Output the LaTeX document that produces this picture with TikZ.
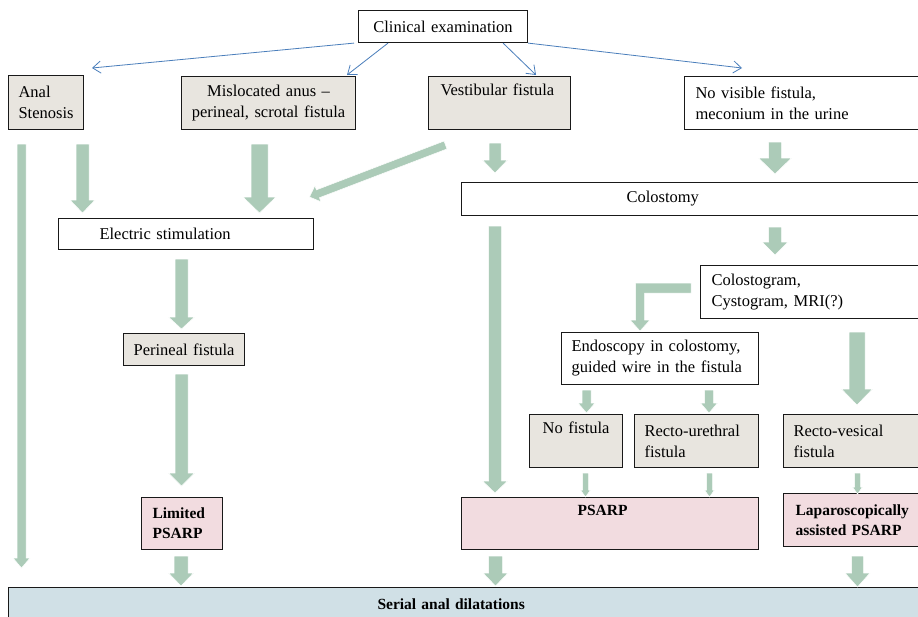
\documentclass[tikz,border=0pt]{standalone}
\usepackage{fontspec}
\setmainfont{Liberation Serif}
\usetikzlibrary{calc,arrows.meta}

\definecolor{arrowgreen}{HTML}{ACCBB8}
\definecolor{boxgray}{HTML}{E8E5DF}
\definecolor{boxpink}{HTML}{F2DCE0}
\definecolor{boxblue}{HTML}{D0E0E6}
\definecolor{linkblue}{HTML}{4A7EBB}

% wide block arrow: start, tip, half shaft width, half head width, head length
\newcommand\blockarrow[5]{%
  \coordinate (bahead) at ($(#2)!#5!(#1)$);
  \path[garrow] ($(#1)!#3!90:(#2)$) -- ($(bahead)!#3!90:(#2)$)
    -- ($(bahead)!#4!90:(#2)$) -- (#2) -- ($(bahead)!#4!-90:(#2)$)
    -- ($(bahead)!#3!-90:(#2)$) -- ($(#1)!#3!-90:(#2)$) -- cycle;
}

\tikzset{
  x=1pt, y=-1pt,
  cell/.style={draw=black!90, line width=1.1pt, anchor=north west,
    inner xsep=0pt, inner ysep=0pt,
    font=\fontsize{16.5}{21}\selectfont},
  boldcell/.style={cell, font=\fontsize{15.5}{20}\selectfont\bfseries},
  garrow/.style={fill=arrowgreen, draw=white, line width=0.5pt},
  bluearrow/.style={draw=linkblue, line width=0.8pt,
    -{Straight Barb[length=8pt,width=12pt]}},
}

\begin{document}
\begin{tikzpicture}
\clip (0,0) rectangle (918,616);
\fill[white] (0,0) rectangle (918,616);

% ---- boxes ----
\node[cell, fill=white, minimum width=169pt, minimum height=32pt,
  text width=169pt, align=center] (clin) at (358,10) {Clinical examination};

\node[cell, fill=boxgray, minimum width=75pt, minimum height=54pt,
  text width=55pt, align=left] (anal) at (8,75) {Anal\\Stenosis};
\node[cell, fill=boxgray, minimum width=174pt, minimum height=53pt,
  text width=174pt, align=center] (misl) at (181,76)
  {Mislocated anus --\\perineal, scrotal fistula};
\node[cell, fill=boxgray, minimum width=142pt, minimum height=53pt,
  text width=118pt, align=left] (vest) at (428,76) {Vestibular fistula\\\strut};
\node[cell, fill=white, minimum width=241pt, minimum height=53pt,
  text width=219pt, align=left] (novis) at (684,76)
  {No visible fistula,\\meconium in the urine};

\node[cell, fill=white, minimum width=464pt, minimum height=33pt,
  text width=134pt, align=left] (colost) at (461,182) {Colostomy};
\node[cell, fill=white, minimum width=255pt, minimum height=31pt,
  text width=173pt, align=left] (elec) at (58,218) {Electric stimulation};

\node[cell, fill=white, minimum width=225pt, minimum height=53pt,
  text width=203pt, align=left] (colgram) at (700,265)
  {Colostogram,\\Cystogram, MRI(?)};
\node[cell, fill=boxgray, minimum width=121pt, minimum height=32pt,
  text width=121pt, align=center] (perin) at (123,333) {Perineal fistula};
\node[cell, fill=white, minimum width=197pt, minimum height=52pt,
  text width=177pt, align=left] (endo) at (561,332)
  {Endoscopy in colostomy,\\guided wire in the fistula};

\node[cell, fill=boxgray, minimum width=93pt, minimum height=53pt,
  text width=93pt, align=center] (nofist) at (529,414) {No fistula\\\strut};
\node[cell, fill=boxgray, minimum width=124pt, minimum height=53pt,
  text width=104pt, align=left] (recur) at (634,414) {Recto-urethral\\fistula};
\node[cell, fill=boxgray, minimum width=142pt, minimum height=53pt,
  text width=122pt, align=left] (recves) at (783,414) {Recto-vesical\\fistula};

\node[boldcell, fill=boxpink, minimum width=81pt, minimum height=52pt,
  text width=59pt, align=left] (limited) at (141,497) {Limited\\PSARP};
\node[boldcell, fill=boxpink, minimum width=297pt, minimum height=52pt,
  text width=65pt, align=left] (psarp) at (461,497) {PSARP\\\strut};
\node[boldcell, fill=boxpink, minimum width=142pt, minimum height=53pt,
  text width=118pt, align=left] (lap) at (783,493)
  {Laparoscopically\\assisted PSARP};

\node[boldcell, fill=boxblue, minimum width=917pt, minimum height=34pt,
  text width=179pt, align=left] (serial) at (8,587) {Serial anal dilatations};

% ---- thin blue branches from the examination ----
\coordinate (bAnal) at (92,68);
\coordinate (bMisl) at (347,75);
\coordinate (bVest) at (536,75);
\coordinate (bNovis) at (742,68);
\draw[bluearrow] ([xshift=-4pt]clin.south west) -- (bAnal);
\draw[bluearrow] ([xshift=30pt]clin.south west) -- (bMisl);
\draw[bluearrow] ([xshift=-25pt]clin.south east) -- (bVest);
\draw[bluearrow] (clin.south east) -- (bNovis);

% ---- green block arrows ----
\coordinate (g1s) at (21.5,144);  \coordinate (g1e) at (21.5,568);
\coordinate (g2s) at (82.5,144);  \coordinate (g2e) at (82.5,213);
\coordinate (g3s) at (259.5,144); \coordinate (g3e) at (259.5,213);
\coordinate (g4s) at (445.5,145); \coordinate (g4e) at (309.5,197);
\coordinate (g5s) at (495,143);   \coordinate (g5e) at (495,173);
\coordinate (g6s) at (775,142);   \coordinate (g6e) at (775,174);
\coordinate (g7s) at (495,226);   \coordinate (g7e) at (495,493);
\coordinate (g8s) at (775,227);   \coordinate (g8e) at (775,255);
\coordinate (g9s) at (857,332);   \coordinate (g9e) at (857,405);
\coordinate (g10s) at (586.5,390); \coordinate (g10e) at (586.5,413);
\coordinate (g11s) at (709,390);   \coordinate (g11e) at (709,413);
\coordinate (g12s) at (585.5,473); \coordinate (g12e) at (585.5,497);
\coordinate (g13s) at (709.5,473); \coordinate (g13e) at (709.5,497);
\coordinate (g14s) at (857.5,473); \coordinate (g14e) at (857.5,494);
\coordinate (g15s) at (181.5,259); \coordinate (g15e) at (181.5,329);
\coordinate (g16s) at (181.5,374); \coordinate (g16e) at (181.5,486);
\coordinate (g17s) at (181,556);   \coordinate (g17e) at (181,586);
\coordinate (g18s) at (495.5,556); \coordinate (g18e) at (495.5,586);
\coordinate (g19s) at (857.5,556); \coordinate (g19e) at (857.5,587);

\blockarrow{g1s}{g1e}{4.5pt}{8.5pt}{10pt}
\blockarrow{g2s}{g2e}{6.5pt}{12.5pt}{13pt}
\blockarrow{g3s}{g3e}{8.5pt}{16.5pt}{16pt}
\blockarrow{g4s}{g4e}{4.2pt}{8.5pt}{9pt}
\blockarrow{g5s}{g5e}{6pt}{12.5pt}{13pt}
\blockarrow{g6s}{g6e}{6.5pt}{16.5pt}{16pt}
\blockarrow{g7s}{g7e}{6.5pt}{12.5pt}{12pt}
\blockarrow{g8s}{g8e}{6.5pt}{13pt}{13pt}
\blockarrow{g9s}{g9e}{8pt}{15.5pt}{16pt}
\blockarrow{g10s}{g10e}{4.5pt}{8.5pt}{10pt}
\blockarrow{g11s}{g11e}{4.5pt}{8.5pt}{10pt}
\blockarrow{g12s}{g12e}{3pt}{5pt}{7pt}
\blockarrow{g13s}{g13e}{3pt}{5pt}{7pt}
\blockarrow{g14s}{g14e}{3pt}{5pt}{7pt}
\blockarrow{g15s}{g15e}{6.5pt}{13pt}{12pt}
\blockarrow{g16s}{g16e}{6.5pt}{13pt}{13pt}
\blockarrow{g17s}{g17e}{7pt}{12.5pt}{13pt}
\blockarrow{g18s}{g18e}{7pt}{12.5pt}{13pt}
\blockarrow{g19s}{g19e}{6pt}{12.5pt}{14pt}

% elbow arrow from the imaging box down to the endoscopy box
\coordinate (elbS) at (691,288);
\coordinate (elbE) at (640,331);
\path[garrow] ($(elbS)+(0,-5)$) -- (635.5,283) -- (635.5,320) -- (630,320)
  -- (elbE) -- (650,320) -- (644.5,320) -- (644.5,293) -- ($(elbS)+(0,5)$) -- cycle;
\end{tikzpicture}
\end{document}
